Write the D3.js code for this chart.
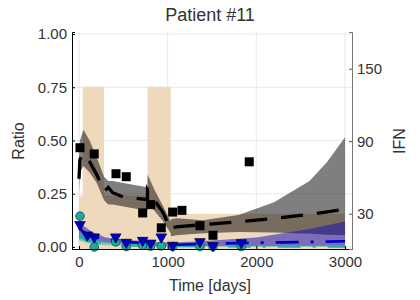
<!DOCTYPE html>
<html>
<head>
<meta charset="utf-8">
<script src="https://cdn.jsdelivr.net/npm/d3@7"></script>
<style>
  body { margin: 0; background: #fff; }
  text { font-family: "Liberation Sans", Arial, sans-serif; fill: #333; }
</style>
</head>
<body>
<script>
var width = 420,
    height = 300;

// IFN treatment (right axis)
var ifnDays = [0, 42, 283, 773, 1035, 3000];
var ifnDose = [45, 135, 45, 135, 30, 30];

// observed ratios
var squareDays = [11, 172, 417, 533, 718, 808, 928, 1056, 1161, 1364, 1511, 1920];
var squareRatio = [0.466, 0.437, 0.344, 0.33, 0.16, 0.199, 0.09, 0.164, 0.172, 0.10, 0.055, 0.40];
var triDays = [11, 94, 172, 414, 533, 718, 808, 928, 1056, 1364, 1511, 1830];
var triRatio = [0.105, 0.056, 0.047, 0.047, 0.022, 0.031, 0.018, 0.047, 0.008, 0.025, 0.006, 0.02];
var circDays = [11, 172, 414, 533, 718, 808, 928, 1056, 1364, 1511, 1830];
var circRatio = [0.145, 0.0, 0.024, 0.002, 0.008, 0.004, 0.005, 0.002, 0.002, 0.002, 0.002];

// model fit, black series
var blackDays = [0, 10, 50, 120, 200, 283, 330, 380, 500, 772, 773, 850, 950, 1035, 1036, 1100, 1400, 1800, 2200, 2600, 2800, 3000];
var blackMean = [0.32, 0.41, 0.44, 0.40, 0.34, 0.26, 0.28, 0.255, 0.235, 0.222, 0.27, 0.22, 0.16, 0.08, 0.085, 0.095, 0.105, 0.118, 0.134, 0.153, 0.165, 0.177];
var blackLo = [0.25, 0.35, 0.38, 0.35, 0.30, 0.22, 0.20, 0.20, 0.19, 0.17, 0.20, 0.17, 0.12, 0.065, 0.05, 0.055, 0.065, 0.07, 0.068, 0.062, 0.058, 0.055];
var blackHi = [0.42, 0.50, 0.55, 0.50, 0.42, 0.33, 0.31, 0.31, 0.30, 0.28, 0.34, 0.27, 0.19, 0.12, 0.13, 0.135, 0.125, 0.15, 0.21, 0.31, 0.40, 0.515];

// model fit, blue series
var blueDays = [0, 50, 150, 300, 500, 800, 1035, 1500, 2000, 2300, 2600, 3000];
var blueMean = [0.09, 0.07, 0.05, 0.035, 0.025, 0.015, 0.01, 0.015, 0.02, 0.022, 0.024, 0.027];
var blueLo = [0.04, 0.04, 0.03, 0.02, 0.015, 0.008, 0.005, 0.005, 0.005, 0.005, 0.005, 0.005];
var blueHi = [0.13, 0.10, 0.07, 0.045, 0.035, 0.025, 0.02, 0.03, 0.045, 0.065, 0.085, 0.12];

// model fit, teal series
var tealDays = [0, 100, 300, 600, 1000, 2000, 3000];
var tealMean = [0.05, 0.03, 0.015, 0.008, 0.005, 0.003, 0.003];
var tealLo = [0.03, 0.018, 0.008, 0.003, 0.001, 0.0, 0.0];
var tealHi = [0.07, 0.045, 0.025, 0.015, 0.01, 0.008, 0.008];

var xTicks = [0, 1000, 2000, 3000],
    yTicks = [0, 0.25, 0.5, 0.75, 1],
    ifnTicks = [30, 90, 150];

var pl = 72, pr = 352, pt = 32, pb = 249;

var x = d3.scaleLinear().domain([-79, 3079]).range([pl, pr]),
    y = d3.scaleLinear().domain([-0.0094, 1.0094]).range([pb, pt]),
    y2 = d3.scaleLinear().domain([0.8, 180.4]).range([pb, pt]);

var svg = d3.select("body").append("svg")
    .attr("width", width)
    .attr("height", height);

svg.append("defs").append("clipPath").attr("id", "clip")
  .append("rect").attr("x", pl).attr("y", pt)
  .attr("width", pr - pl).attr("height", pb - pt);

// grid
var grid = svg.append("g").attr("stroke", "#e8e8e8").attr("stroke-width", 1);
grid.selectAll(".gx").data(xTicks).enter().append("line")
  .attr("x1", function(d) { return x(d); }).attr("x2", function(d) { return x(d); })
  .attr("y1", pt).attr("y2", pb);
grid.selectAll(".gy").data(yTicks).enter().append("line")
  .attr("x1", pl).attr("x2", pr)
  .attr("y1", function(d) { return y(d); }).attr("y2", function(d) { return y(d); });

var plot = svg.append("g").attr("clip-path", "url(#clip)");

// IFN area
var ifn = ifnDays.map(function(d, i) { return [d, ifnDose[i]]; });
plot.append("path")
  .datum(ifn)
  .attr("fill", "#efd9bd")
  .attr("d", d3.area().curve(d3.curveStepAfter)
    .x(function(d) { return x(d[0]); })
    .y0(y2(0)).y1(function(d) { return y2(d[1]); }));

function band(days, lo, hi, color, op) {
  var pts = days.map(function(d, i) { return [d, lo[i], hi[i]]; });
  plot.append("path").datum(pts)
    .attr("fill", color).attr("fill-opacity", op)
    .attr("d", d3.area()
      .x(function(d) { return x(d[0]); })
      .y0(function(d) { return y(d[1]); })
      .y1(function(d) { return y(d[2]); }));
}

function fitLine(days, vals, color, w, dash) {
  var pts = days.map(function(d, i) { return [d, vals[i]]; });
  plot.append("path").datum(pts)
    .attr("fill", "none").attr("stroke", color)
    .attr("stroke-width", w).attr("stroke-dasharray", dash)
    .attr("d", d3.line()
      .x(function(d) { return x(d[0]); })
      .y(function(d) { return y(d[1]); }));
}

band(blackDays, blackLo, blackHi, "#000", 0.5);
band(blueDays, blueLo, blueHi, "#1c14b5", 0.55);
band(tealDays, tealLo, tealHi, "#20b2aa", 0.5);

fitLine(blackDays, blackMean, "#000", 3.3, "22,14");
fitLine(tealDays, tealMean, "#20b2aa", 2.7, "23,12,3,12");
fitLine(blueDays, blueMean, "#0000cd", 2.7, "23,12,3,12");

// markers
var marks = svg.append("g");
marks.selectAll(".sq")
  .data(squareDays.map(function(d, i) { return [d, squareRatio[i]]; }))
  .enter().append("rect")
  .attr("x", function(d) { return x(d[0]) - 4.5; })
  .attr("y", function(d) { return y(d[1]) - 4.5; })
  .attr("width", 9).attr("height", 9)
  .attr("fill", "#000");

marks.selectAll(".ci")
  .data(circDays.map(function(d, i) { return [d, circRatio[i]]; }))
  .enter().append("circle")
  .attr("cx", function(d) { return x(d[0]); })
  .attr("cy", function(d) { return y(d[1]); })
  .attr("r", 4.3)
  .attr("fill", "#22a89f").attr("stroke", "#0d524d").attr("stroke-width", 0.8);

var tri = d3.symbol().type(d3.symbolTriangle).size(48);
marks.selectAll(".tr")
  .data(triDays.map(function(d, i) { return [d, triRatio[i]]; }))
  .enter().append("path")
  .attr("d", tri)
  .attr("transform", function(d) { return "translate(" + x(d[0]) + "," + y(d[1]) + ") rotate(180)"; })
  .attr("fill", "#0000cd").attr("stroke", "#000033").attr("stroke-width", 0.8);

// axes
var axisL = svg.append("g").attr("transform", "translate(" + pl + ",0)")
  .call(d3.axisLeft(y).tickValues(yTicks).tickFormat(d3.format(".2f")).tickSize(-3).tickPadding(5));
var axisB = svg.append("g").attr("transform", "translate(0," + pb + ")")
  .call(d3.axisBottom(x).tickValues(xTicks).tickFormat(d3.format("d")).tickSize(-3).tickPadding(7));
var axisR = svg.append("g").attr("transform", "translate(" + pr + ",0)")
  .call(d3.axisRight(y2).tickValues(ifnTicks).tickSize(-3).tickPadding(5));

[axisL, axisB, axisR].forEach(function(a) {
  a.selectAll("text").attr("font-size", 15).attr("font-family", "Liberation Sans, Arial, sans-serif").attr("fill", "#333");
});
axisL.select(".domain").attr("stroke", "#000");
axisB.select(".domain").attr("stroke", "#000");
axisR.select(".domain").attr("stroke", "#777");
axisR.selectAll("line").attr("stroke", "#555");

svg.append("text").attr("x", 210).attr("y", 21).attr("text-anchor", "middle")
  .attr("font-size", 18).text("Patient #11");
svg.append("text").attr("x", 210).attr("y", 291).attr("text-anchor", "middle")
  .attr("font-size", 16).text("Time [days]");
svg.append("text").attr("transform", "translate(24,141) rotate(-90)").attr("text-anchor", "middle")
  .attr("font-size", 16).text("Ratio");
svg.append("text").attr("transform", "translate(405,141) rotate(-90)").attr("text-anchor", "middle")
  .attr("font-size", 16).text("IFN");
</script>
</body>
</html>
